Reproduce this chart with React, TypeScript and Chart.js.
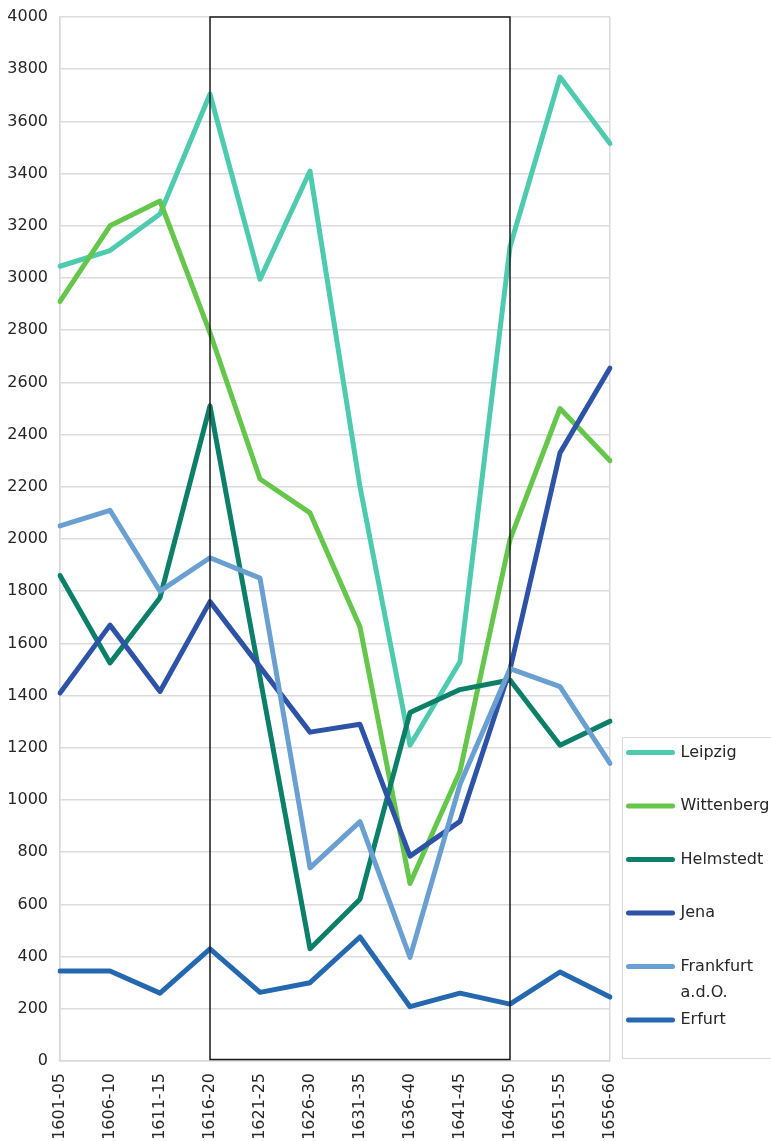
import React, { useEffect, useRef } from "react";
import { Chart, registerables } from "chart.js";

Chart.register(...registerables);

const categories = [
  "1601-05", "1606-10", "1611-15", "1616-20", "1621-25", "1626-30",
  "1631-35", "1636-40", "1641-45", "1646-50", "1651-55", "1656-60",
];

const leipzig = [3045, 3105, 3245, 3705, 2995, 3410, 2200, 1210, 1530, 3120, 3770, 3515];
const wittenberg = [2910, 3200, 3295, 2790, 2230, 2100, 1663, 680, 1110, 1998, 2500, 2300];
const helmstedt = [1860, 1525, 1775, 2510, 1470, 430, 620, 1335, 1423, 1460, 1210, 1302];
const jena = [1410, 1670, 1416, 1760, 1510, 1260, 1290, 785, 918, 1500, 2330, 2655];
const frankfurt = [2050, 2110, 1800, 1928, 1850, 740, 917, 397, 1060, 1503, 1434, 1140];
const erfurt = [345, 345, 260, 430, 263, 300, 475, 208, 260, 218, 341, 245];

const seriesNames = ["Leipzig", "Wittenberg", "Helmstedt", "Jena", "Frankfurt a.d.O.", "Erfurt"];
const seriesColors = ["#4ECBAE", "#64C64B", "#0C7F68", "#2D53A6", "#6A9FD2", "#2468B0"];
const seriesValues = [leipzig, wittenberg, helmstedt, jena, frankfurt, erfurt];

const yTicks = { min: 0, max: 4000, step: 200 };
const boxRange = { from: 3, to: 9 };

const FONT = "'DejaVu Sans', sans-serif";

const boxPlugin = {
  id: "warBox",
  afterDatasetsDraw(chart: any) {
    const { ctx, scales } = chart;
    const x1 = scales.x.getPixelForValue(boxRange.from);
    const x2 = scales.x.getPixelForValue(boxRange.to);
    const y1 = scales.y.getPixelForValue(yTicks.max);
    const y2 = scales.y.getPixelForValue(yTicks.min) - 1.5;
    ctx.save();
    ctx.strokeStyle = "#1a1a1a";
    ctx.lineWidth = 1.5;
    ctx.strokeRect(x1, y1, x2 - x1, y2 - y1);
    ctx.restore();
  },
};

const legendPlugin = {
  id: "sideLegend",
  afterDraw(chart: any) {
    const { ctx, chartArea } = chart;
    const left = chartArea.right + 12.5;
    const top = Math.round(chartArea.top) + 720.5;
    const bottom = Math.round(chartArea.bottom) - 2.5;
    ctx.save();
    ctx.strokeStyle = "#d9d9d9";
    ctx.lineWidth = 1;
    ctx.fillStyle = "#ffffff";
    ctx.fillRect(left, top, 300, bottom - top);
    ctx.strokeRect(left, top, 300, bottom - top);
    ctx.font = "16px " + FONT;
    ctx.textBaseline = "middle";
    ctx.textAlign = "left";
    const step = 53.5;
    chart.data.datasets.forEach((ds: any, i: number) => {
      const y = top + 15 + i * step;
      ctx.strokeStyle = ds.borderColor;
      ctx.lineWidth = 5;
      ctx.lineCap = "round";
      ctx.beginPath();
      ctx.moveTo(left + 6, y);
      ctx.lineTo(left + 50, y);
      ctx.stroke();
      ctx.fillStyle = "#262626";
      const words = String(ds.label).split(" ");
      const lines: string[] = [];
      let cur = "";
      words.forEach((w) => {
        const t = cur ? cur + " " + w : w;
        if (cur && ctx.measureText(t).width > 95) {
          lines.push(cur);
          cur = w;
        } else cur = t;
      });
      if (cur) lines.push(cur);
      lines.forEach((ln, k) => ctx.fillText(ln, left + 58, y + k * 26.5));
    });
    ctx.restore();
  },
};

export default function App() {
  const ref = useRef<HTMLCanvasElement | null>(null);
  useEffect(() => {
    if (!ref.current) return;
    const chart = new Chart(ref.current, {
      type: "line",
      data: {
        labels: categories,
        datasets: seriesNames.map((name, i) => ({
          label: name,
          data: seriesValues[i],
          borderColor: seriesColors[i],
          backgroundColor: seriesColors[i],
          borderWidth: 5,
          pointRadius: 0,
          borderJoinStyle: "round" as const,
          borderCapStyle: "round" as const,
          tension: 0,
          order: seriesNames.length - i,
        })),
      },
      options: {
        animation: false,
        responsive: true,
        maintainAspectRatio: false,
        layout: { padding: { top: 17, right: 161, left: 0, bottom: 0 } },
        plugins: { legend: { display: false }, tooltip: { enabled: false } },
        scales: {
          x: {
            offset: false,
            grid: {
              drawTicks: false,
              color: (c: any) =>
                c.index === 0 || c.index === categories.length - 1 ? "#d9d9d9" : "rgba(0,0,0,0)",
              lineWidth: 1.5,
            },
            border: { display: true, color: "#d9d9d9", width: 1.5 },
            ticks: {
              autoSkip: false,
              maxRotation: 90,
              minRotation: 90,
              padding: 12,
              color: "#262626",
              font: { family: FONT, size: 16 },
            },
            afterFit: (s: any) => {
              s.height = 80;
            },
          },
          y: {
            min: yTicks.min,
            max: yTicks.max,
            grid: { drawTicks: false, color: "#dcdcdc", lineWidth: 1.5 },
            border: { display: true, color: "#d9d9d9", width: 1.5 },
            ticks: {
              stepSize: yTicks.step,
              padding: 12,
              color: "#262626",
              font: { family: FONT, size: 16 },
              callback: (v: any) => String(v),
            },
            afterFit: (s: any) => {
              s.width = 60;
              s.paddingTop = 0;
              s.paddingBottom = 0;
            },
          },
        },
      },
      plugins: [boxPlugin, legendPlugin],
    });
    return () => chart.destroy();
  }, []);
  return (
    <div style={{ position: "absolute", left: 0, top: 0, width: 771, height: 1141, background: "#fff" }}>
      <canvas ref={ref} />
    </div>
  );
}
